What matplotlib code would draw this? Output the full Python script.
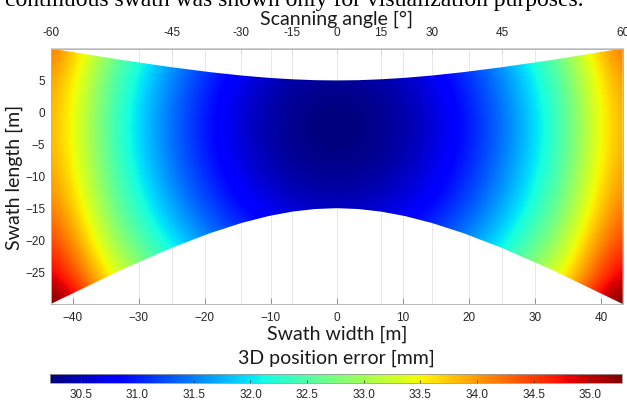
import numpy as np
import matplotlib
matplotlib.use('Agg')
import matplotlib.pyplot as plt
from matplotlib.patches import Polygon

# Geometrie: Flughöhe bestimmt Zusammenhang Scanwinkel <-> Streifenbreite
flying_height = 25.0  # m
max_angle = 60  # Grad

edge_x = [-43.30, -32.58, -25.00, -19.18, -14.43, -10.36, -6.70, -3.29, 0.0,
          3.29, 6.70, 10.36, 14.43, 19.18, 25.00, 32.58, 43.30]
edge_top = [10.0, 8.21, 7.07, 6.30, 5.77, 5.41, 5.18, 5.04, 5.0,
            5.04, 5.18, 5.41, 5.77, 6.30, 7.07, 8.21, 10.0]
edge_bottom = [-30.0, -24.64, -21.21, -18.91, -17.32, -16.24, -15.53, -15.13, -15.0,
               -15.13, -15.53, -16.24, -17.32, -18.91, -21.21, -24.64, -30.0]

# 3D-Positionsfehler [mm]: Querprofil in der Zeile mit minimalem Fehler + Zuwachs in Längsrichtung
grid_x = [-43.3, -32.475, -21.65, -10.825, 0.0, 10.825, 21.65, 32.475, 43.3]
error_across = [33.83, 32.26, 31.13, 30.45, 30.23, 30.45, 31.13, 32.26, 33.83]
grid_y = [10, 5, 0, -5, -10, -15, -20, -25, -30]
error_along = [0.30, 0.11, 0.01, 0.01, 0.11, 0.30, 0.59, 0.97, 1.45]

scan_angles = [-60, -45, -30, -15, 0, 15, 30, 45, 60]
width_ticks = [-40, -30, -20, -10, 0, 10, 20, 30, 40]
length_ticks = [5, 0, -5, -10, -15, -20, -25]
error_ticks = [30.5, 31.0, 31.5, 32.0, 32.5, 33.0, 33.5, 34.0, 34.5, 35.0]
error_min, error_max = 30.23, 35.28

W, H = 627, 400
tick_family = 'Liberation Sans'
tick_size = 8.5
label_font = dict(family='Lato', size=14, color='#1a1a1a')
tick_color = '#262626'


def x_to_angle(x):
    return np.degrees(np.arctan(np.asarray(x, dtype=float) / flying_height))


def angle_to_x(a):
    return flying_height * np.tan(np.radians(np.asarray(a, dtype=float)))


fig = plt.figure(figsize=(W / 100, H / 100), dpi=100)

# abgeschnittene Zeile aus dem Fließtext darüber
fig.text(5 / W, 1 - 6 / H, 'continuous swath was shown only for visualization purposes.',
         family='Liberation Serif', size=17, va='baseline', ha='left')

ax = fig.add_axes([50.7 / W, 1 - 304 / H, 572 / W, 255.5 / H])

# Fehlerfeld
error_grid = np.add.outer(error_along, error_across)
dx = grid_x[1] - grid_x[0]
dy = grid_y[0] - grid_y[1]
im = ax.imshow(error_grid, cmap='jet', vmin=error_min, vmax=error_max,
               extent=[grid_x[0] - dx / 2, grid_x[-1] + dx / 2, grid_y[-1] - dy / 2, grid_y[0] + dy / 2],
               origin='upper', aspect='auto', interpolation='catrom',
               interpolation_stage='data', zorder=1)

outline = np.column_stack([edge_x + edge_x[::-1], edge_top + edge_bottom[::-1]])
swath = Polygon(outline, closed=True, facecolor='none', edgecolor='none', transform=ax.transData)
ax.add_patch(swath)
im.set_clip_path(swath)

x_lim = float(angle_to_x(max_angle))
ax.set_xlim(-x_lim, x_lim)
ax.set_ylim(-30, 10)
ax.set_xticks(width_ticks)
ax.set_xticks(angle_to_x(scan_angles), minor=True)
ax.set_yticks(length_ticks)
ax.set_axisbelow(True)
ax.grid(True, axis='x', which='both', color='#e4e4e4', lw=0.6, zorder=0)
ax.tick_params(axis='both', which='major', direction='in', length=4, width=0.6,
               color='#808080', labelcolor=tick_color, labelsize=tick_size)
ax.tick_params(axis='x', which='major', pad=6)
ax.tick_params(axis='y', which='major', pad=4)
ax.tick_params(axis='x', which='minor', length=0)
for lab in ax.get_xticklabels() + ax.get_yticklabels():
    lab.set_family(tick_family)
for s in ax.spines.values():
    s.set_color('#b5b5b5')
    s.set_linewidth(0.7)

# obere Achse: Scanwinkel
sec = ax.secondary_xaxis('top', functions=(x_to_angle, angle_to_x))
sec.set_xticks(scan_angles)
sec.set_xticklabels([str(a) for a in scan_angles])
sec.tick_params(direction='in', length=4, width=0.6, color='#808080',
                labelcolor=tick_color, labelsize=tick_size, pad=7)
for lab in sec.get_xticklabels():
    lab.set_family(tick_family)
sec.spines['top'].set_color('#cfcfcf')
sec.spines['top'].set_linewidth(0.7)

fig.text(336.7 / W, 1 - 19 / H, 'Scanning angle [°]', ha='center', va='center', **label_font)
fig.text(336.7 / W, 1 - 334 / H, 'Swath width [m]', ha='center', va='center', **label_font)
fig.text(14 / W, 1 - 177 / H, 'Swath length [m]', ha='center', va='center', rotation=90, **label_font)
fig.text(336.7 / W, 1 - 358 / H, '3D position error [mm]', ha='center', va='center', **label_font)

# Farbskala
cax = fig.add_axes([50 / W, 1 - 383 / H, 572 / W, 9 / H])
cb = fig.colorbar(im, cax=cax, orientation='horizontal', ticks=error_ticks)
cb.ax.set_xticklabels([f'{t:.1f}' for t in error_ticks])
cb.ax.tick_params(direction='in', length=2, width=0.6, color='#404040',
                  labelcolor=tick_color, labelsize=tick_size, pad=4)
for lab in cb.ax.get_xticklabels():
    lab.set_family(tick_family)
cb.outline.set_edgecolor('#9a9a9a')
cb.outline.set_linewidth(0.6)

fig.savefig('out.png', dpi=100)
